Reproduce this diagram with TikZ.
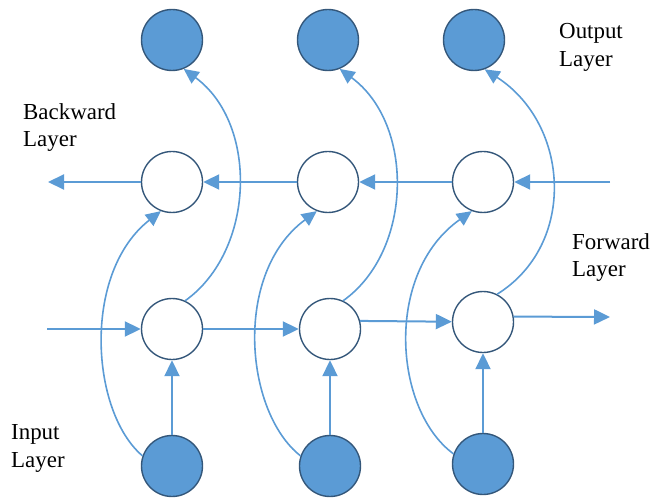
\documentclass[tikz,border=0pt]{standalone}
\usepackage{fontspec}
\setmainfont{Liberation Serif}
\usetikzlibrary{arrows.meta}
\definecolor{nodeblue}{HTML}{5B9BD5}
\definecolor{rimblue}{HTML}{34577A}
\definecolor{linkblue}{HTML}{5B9BD5}

\begin{document}
\begin{tikzpicture}[x=1bp,y=-1bp,
  unit/.style={circle, draw=rimblue, line width=1.4bp, minimum size=61bp, inner sep=0pt},
  ionode/.style={unit, fill=nodeblue},
  hidden/.style={unit, fill=white},
  flow/.style={draw=linkblue, line width=2bp, -{Triangle[length=16bp,width=15bp]}},
  loop/.style={draw=linkblue, line width=1.6bp, -{Triangle[length=15bp,width=14bp]}},
  layername/.style={font=\fontsize{23}{28}\selectfont, align=left, anchor=north west, inner sep=0pt}
]
\useasboundingbox (0,0) rectangle (652,502);

% output layer
\node[ionode] (o1) at (172,40) {};
\node[ionode] (o2) at (328,40) {};
\node[ionode] (o3) at (474,40) {};
% backward layer
\node[hidden] (b1) at (172,182) {};
\node[hidden] (b2) at (328,182) {};
\node[hidden] (b3) at (483,182) {};
% forward layer
\node[hidden] (f1) at (172,329) {};
\node[hidden] (f2) at (330,329) {};
\node[hidden] (f3) at (483,322) {};
% input layer
\node[ionode] (i1) at (172,466) {};
\node[ionode] (i2) at (330,466) {};
\node[ionode] (i3) at (483,464) {};

% free ends of the recurrent chains
\coordinate (bin) at (610,182);
\coordinate (bout) at (48,182);
\coordinate (fin) at (47,329);
\coordinate (fout) at (610,317);

% backward chain (right to left)
\draw[flow] (bin) -- (b3);
\draw[flow] (b3) -- (b2);
\draw[flow] (b2) -- (b1);
\draw[flow] (b1) -- (bout);

% forward chain (left to right)
\draw[flow] (fin) -- (f1);
\draw[flow] (f1) -- (f2);
\draw[flow] (f2.15) -- (f3);
\draw[flow] (f3.10) -- (fout);

% input to forward units
\draw[flow] (i1) -- (f1);
\draw[flow] (i2) -- (f2);
\draw[flow] (i3) -- (f3);

% forward units to outputs
\draw[loop] (f1.65) .. controls +(70,-50) and +(75,55) .. (o1.-68);
\draw[loop] (f2.65) .. controls +(70,-50) and +(75,55) .. (o2.-68);
\draw[loop] (f3.63) .. controls +(80,-50) and +(85,55) .. (o3.-70);

% inputs to backward units
\draw[loop] (i1.161) .. controls +(-52,-44) and +(-79,62) .. (b1.-111);
\draw[loop] (i2.161) .. controls +(-56,-44) and +(-84,62) .. (b2.-111);
\draw[loop] (i3.161) .. controls +(-60,-44) and +(-88,62) .. (b3.-111);

% layer captions
\node[layername] (tback) at (23,103) {Backward\\Layer};
\node[layername] (tout) at (559,23) {Output\\Layer};
\node[layername] (tfwd) at (572,233) {Forward\\Layer};
\node[layername] (tin) at (11,424) {Input\\Layer};
\end{tikzpicture}
\end{document}
